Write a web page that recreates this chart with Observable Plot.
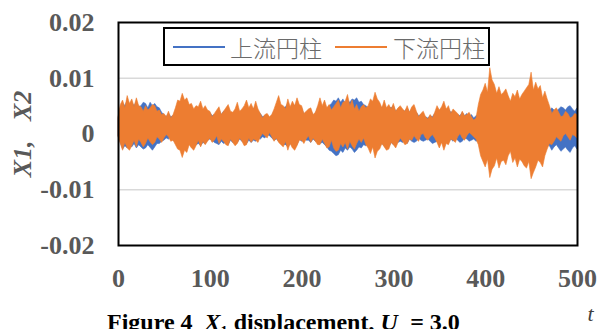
<!DOCTYPE html>
<html><head><meta charset="utf-8">
<script src="https://cdn.jsdelivr.net/npm/d3@7"></script>
<script src="https://cdn.jsdelivr.net/npm/@observablehq/plot@0.6"></script>
<style>
body{margin:0;background:#fff;}
#wrap{position:relative;width:600px;height:329px;overflow:hidden;background:#fff;}
svg g[aria-label^="x-axis"] text, svg g[aria-label^="y-axis"] text{font-size:26px;font-weight:bold;fill:#595959;font-family:"Liberation Serif",serif;}
#legend{position:absolute;left:163px;top:27px;width:323px;height:35px;border:2px solid #000;background:#fff;}
.lg-line{position:absolute;top:17px;height:1.6px;width:52px;}
.lg-text{position:absolute;top:0px;line-height:37px;font-size:23px;color:#6a6a6a;font-family:"Noto Sans CJK JP",sans-serif;font-weight:300;}
#caption{position:absolute;left:107px;top:310px;font-family:"Liberation Serif",serif;font-size:24px;font-weight:bold;line-height:1;white-space:pre;color:#000;}
</style></head><body><div id="wrap"></div>
<script>
// sample times: main samples every 5 time units, plus in-between samples
const times = d3.range(0, 501, 5);
const midTimes = d3.range(2.5, 500, 5);
const seriesNames = ["上流円柱", "下流円柱"];
const xTicks = [0, 100, 200, 300, 400, 500];
const yTicks = [-0.02, -0.01, 0, 0.01, 0.02];
const yGrid = [-0.01, 0, 0.01];

// upstream cylinder (blue): upper / lower envelope of the oscillation
const upUpper = [0.0028,0.0055,0.0060,0.0056,0.0058,0.0050,0.0054,0.0056,0.0054,0.0046,
0.0034,0.0036,0.0032,0.0044,0.0050,0.0048,0.0046,0.0044,0.0048,0.0044,
0.0038,0.0034,0.0042,0.0040,0.0046,0.0036,0.0048,0.0040,0.0052,0.0048,
0.0050,0.0036,0.0032,0.0028,0.0040,0.0052,0.0046,0.0054,0.0052,0.0056,
0.0046,0.0038,0.0042,0.0036,0.0054,0.0052,0.0050,0.0060,0.0064,0.0062,
0.0060,0.0062,0.0064,0.0058,0.0050,0.0052,0.0056,0.0050,0.0052,0.0048,
0.0050,0.0044,0.0042,0.0046,0.0044,0.0038,0.0034,0.0030,0.0032,0.0036,
0.0040,0.0046,0.0044,0.0040,0.0034,0.0038,0.0036,0.0034,0.0032,0.0040,
0.0046,0.0050,0.0048,0.0046,0.0044,0.0046,0.0048,0.0046,0.0044,0.0048,
0.0050,0.0046,0.0044,0.0040,0.0040,0.0042,0.0044,0.0046,0.0048,0.0044,0.0046];
const upUpperMid = [0.0046,0.0050,0.0052,0.0050,0.0048,0.0056,0.0046,0.0050,0.0048,0.0038,
0.0030,0.0030,0.0038,0.0040,0.0044,0.0040,0.0038,0.0040,0.0040,0.0036,
0.0032,0.0036,0.0034,0.0040,0.0032,0.0040,0.0036,0.0044,0.0042,0.0044,
0.0040,0.0030,0.0026,0.0032,0.0044,0.0042,0.0048,0.0046,0.0050,0.0040,
0.0034,0.0036,0.0032,0.0046,0.0048,0.0044,0.0054,0.0058,0.0056,0.0054,
0.0056,0.0060,0.0056,0.0052,0.0046,0.0050,0.0048,0.0046,0.0044,0.0046,
0.0040,0.0038,0.0040,0.0038,0.0040,0.0032,0.0028,0.0028,0.0030,0.0034,
0.0040,0.0040,0.0038,0.0034,0.0032,0.0032,0.0030,0.0028,0.0034,0.0040,
0.0044,0.0044,0.0040,0.0042,0.0040,0.0042,0.0040,0.0042,0.0040,0.0044,
0.0042,0.0040,0.0036,0.0036,0.0046,0.0040,0.0048,0.0042,0.0050,0.0040];
const upLower = [-0.0004,-0.0028,-0.0026,-0.0024,-0.0026,-0.0024,-0.0026,-0.0025,-0.0024,-0.0018,
-0.0012,-0.0010,-0.0012,-0.0020,-0.0026,-0.0024,-0.0022,-0.0020,-0.0022,-0.0018,
-0.0010,-0.0016,-0.0020,-0.0018,-0.0020,-0.0016,-0.0016,-0.0014,-0.0018,-0.0016,
-0.0014,-0.0010,-0.0008,-0.0004,-0.0012,-0.0014,-0.0020,-0.0024,-0.0022,-0.0020,
-0.0014,-0.0012,-0.0016,-0.0014,-0.0018,-0.0020,-0.0030,-0.0036,-0.0038,-0.0034,
-0.0030,-0.0028,-0.0030,-0.0026,-0.0022,-0.0024,-0.0026,-0.0022,-0.0022,-0.0024,
-0.0020,-0.0016,-0.0016,-0.0018,-0.0014,-0.0014,-0.0012,-0.0012,-0.0014,-0.0016,
-0.0018,-0.0020,-0.0016,-0.0014,-0.0012,-0.0014,-0.0010,-0.0012,-0.0014,-0.0016,
-0.0014,-0.0012,-0.0014,-0.0012,-0.0010,-0.0012,-0.0014,-0.0012,-0.0010,-0.0014,
-0.0012,-0.0014,-0.0016,-0.0018,-0.0022,-0.0024,-0.0026,-0.0028,-0.0030,-0.0026,-0.0028];
const upLowerMid = [-0.0016,-0.0022,-0.0020,-0.0018,-0.0020,-0.0028,-0.0020,-0.0030,-0.0018,-0.0014,
-0.0008,-0.0006,-0.0016,-0.0022,-0.0020,-0.0018,-0.0016,-0.0018,-0.0016,-0.0012,
-0.0012,-0.0018,-0.0014,-0.0016,-0.0012,-0.0014,-0.0010,-0.0014,-0.0012,-0.0012,
-0.0008,-0.0006,-0.0002,-0.0008,-0.0010,-0.0016,-0.0020,-0.0018,-0.0016,-0.0010,
-0.0008,-0.0012,-0.0010,-0.0014,-0.0016,-0.0024,-0.0032,-0.0040,-0.0030,-0.0026,
-0.0024,-0.0034,-0.0024,-0.0020,-0.0018,-0.0022,-0.0020,-0.0018,-0.0020,-0.0016,
-0.0012,-0.0014,-0.0012,-0.0010,-0.0016,-0.0008,-0.0014,-0.0010,-0.0018,-0.0014,
-0.0016,-0.0012,-0.0010,-0.0008,-0.0016,-0.0008,-0.0014,-0.0010,-0.0012,-0.0010,
-0.0008,-0.0010,-0.0008,-0.0006,-0.0008,-0.0010,-0.0008,-0.0006,-0.0010,-0.0008,
-0.0010,-0.0012,-0.0014,-0.0020,-0.0030,-0.0020,-0.0032,-0.0024,-0.0034,-0.0022];

// downstream cylinder (orange)
const downUpper = [0.0030,0.0060,0.0068,0.0062,0.0064,0.0048,0.0050,0.0046,0.0050,0.0042,
0.0036,0.0040,0.0034,0.0060,0.0072,0.0064,0.0054,0.0050,0.0058,0.0050,
0.0040,0.0036,0.0048,0.0040,0.0052,0.0038,0.0056,0.0044,0.0060,0.0054,
0.0058,0.0036,0.0034,0.0030,0.0044,0.0068,0.0050,0.0062,0.0058,0.0064,
0.0050,0.0040,0.0046,0.0038,0.0064,0.0060,0.0052,0.0048,0.0060,0.0056,
0.0070,0.0060,0.0052,0.0048,0.0046,0.0062,0.0074,0.0056,0.0060,0.0052,
0.0054,0.0046,0.0044,0.0050,0.0048,0.0040,0.0036,0.0030,0.0034,0.0038,
0.0042,0.0058,0.0050,0.0044,0.0036,0.0040,0.0034,0.0030,0.0028,0.0070,
0.0090,0.0118,0.0088,0.0084,0.0074,0.0068,0.0072,0.0078,0.0070,0.0082,
0.0110,0.0092,0.0086,0.0076,0.0050,0.0042,0.0038,0.0032,0.0036,0.0030,0.0034];
const downUpperMid = [0.0052,0.0046,0.0054,0.0048,0.0050,0.0040,0.0042,0.0052,0.0040,0.0034,
0.0030,0.0028,0.0046,0.0058,0.0060,0.0052,0.0044,0.0048,0.0044,0.0042,
0.0030,0.0042,0.0034,0.0046,0.0040,0.0044,0.0040,0.0050,0.0046,0.0044,
0.0044,0.0028,0.0036,0.0034,0.0056,0.0052,0.0044,0.0048,0.0050,0.0052,
0.0036,0.0044,0.0034,0.0050,0.0050,0.0046,0.0042,0.0054,0.0046,0.0058,
0.0050,0.0044,0.0040,0.0052,0.0050,0.0058,0.0062,0.0046,0.0046,0.0044,
0.0040,0.0050,0.0040,0.0038,0.0052,0.0030,0.0040,0.0026,0.0028,0.0050,
0.0048,0.0044,0.0036,0.0040,0.0030,0.0032,0.0038,0.0024,0.0052,0.0078,
0.0074,0.0096,0.0072,0.0070,0.0080,0.0058,0.0066,0.0062,0.0076,0.0088,
0.0078,0.0080,0.0064,0.0062,0.0036,0.0046,0.0030,0.0040,0.0028,0.0036];
const downLower = [-0.0005,-0.0030,-0.0026,-0.0022,-0.0024,-0.0016,-0.0018,-0.0015,-0.0016,-0.0010,
-0.0008,-0.0006,-0.0012,-0.0028,-0.0043,-0.0034,-0.0026,-0.0022,-0.0024,-0.0020,
-0.0008,-0.0012,-0.0018,-0.0014,-0.0022,-0.0016,-0.0018,-0.0014,-0.0020,-0.0016,
-0.0012,-0.0006,-0.0004,0.0002,-0.0014,-0.0016,-0.0024,-0.0030,-0.0026,-0.0022,
-0.0012,-0.0010,-0.0016,-0.0014,-0.0020,-0.0018,-0.0024,-0.0026,-0.0030,-0.0024,
-0.0028,-0.0022,-0.0018,-0.0016,-0.0020,-0.0036,-0.0044,-0.0028,-0.0024,-0.0028,
-0.0020,-0.0016,-0.0014,-0.0018,-0.0012,-0.0010,-0.0002,-0.0008,-0.0006,-0.0008,
-0.0026,-0.0030,-0.0020,-0.0012,-0.0006,-0.0008,-0.0004,-0.0002,-0.0010,-0.0040,
-0.0060,-0.0079,-0.0058,-0.0062,-0.0048,-0.0040,-0.0052,-0.0060,-0.0050,-0.0062,
-0.0081,-0.0060,-0.0052,-0.0040,-0.0018,-0.0014,-0.0010,-0.0004,-0.0006,-0.0002,-0.0008];
const downLowerMid = [-0.0018,-0.0016,-0.0030,-0.0012,-0.0010,-0.0024,-0.0008,-0.0020,-0.0006,-0.0016,
-0.0002,-0.0014,-0.0020,-0.0030,-0.0030,-0.0020,-0.0030,-0.0012,-0.0014,-0.0014,
-0.0016,-0.0004,-0.0010,-0.0020,-0.0010,-0.0022,-0.0008,-0.0022,-0.0008,-0.0010,
-0.0016,0.0000,-0.0008,-0.0006,-0.0008,-0.0020,-0.0014,-0.0018,-0.0030,-0.0012,
-0.0018,-0.0004,-0.0008,-0.0020,-0.0010,-0.0026,-0.0012,-0.0032,-0.0018,-0.0016,
-0.0014,-0.0028,-0.0010,-0.0008,-0.0026,-0.0024,-0.0032,-0.0018,-0.0030,-0.0016,
-0.0026,-0.0008,-0.0020,-0.0010,-0.0004,-0.0014,0.0000,-0.0012,-0.0002,-0.0016,
-0.0016,-0.0018,-0.0010,-0.0016,0.0000,-0.0012,0.0002,-0.0006,-0.0020,-0.0050,
-0.0046,-0.0064,-0.0044,-0.0050,-0.0056,-0.0032,-0.0044,-0.0046,-0.0058,-0.0050,
-0.0070,-0.0048,-0.0060,-0.0028,-0.0020,-0.0006,-0.0014,0.0000,-0.0012,-0.0004];

const colors = ["#4472C4", "#ED7D31"];
const rows = [];
times.forEach((t, i) => {
  rows.push({t, bU: upUpper[i], bL: upLower[i], oU: downUpper[i], oL: downLower[i]});
  if (i < midTimes.length) rows.push({t: midTimes[i], bU: upUpperMid[i], bL: upLowerMid[i], oU: downUpperMid[i], oL: downLowerMid[i]});
});

const chart = Plot.plot({
  width: 600, height: 329,
  marginLeft: 118, marginRight: 23, marginTop: 22, marginBottom: 84,
  style: {fontFamily: "'Liberation Serif', serif", background: "white", overflow: "visible"},
  x: {domain: [0, 500], ticks: xTicks, tickSize: 0, tickPadding: 23, label: null, tickFormat: d => String(d)},
  y: {domain: [-0.02, 0.02], ticks: yTicks, tickSize: 0, tickPadding: 24, label: null,
      tickFormat: d => d === 0 ? "0" : d.toFixed(2)},
  marks: [
    Plot.ruleY(yGrid, {stroke: "#d9d9d9", strokeWidth: 1.5}),
    Plot.areaY(rows, {x: "t", y1: "bL", y2: "bU", fill: colors[0], stroke: colors[0], strokeWidth: 0.6}),
    Plot.areaY(rows, {x: "t", y1: "oL", y2: "oU", fill: colors[1], stroke: colors[1], strokeWidth: 0.6}),
    Plot.frame({stroke: "black", strokeWidth: 2}),
    Plot.text(["X1,\u00a0\u00a0\u00a0X2"], {frameAnchor: "left", dx: -96, rotate: -90, text: d => d,
      fontSize: 26, fontWeight: "bold", fontStyle: "italic", fill: "#595959", textAnchor: "middle"}),
    Plot.text(["t"], {frameAnchor: "bottom-right", dx: 13, dy: 75, text: d => d,
      fontSize: 22, fontStyle: "italic", fill: "#404040", textAnchor: "middle"})
  ]
});

const wrap = document.getElementById("wrap");
wrap.appendChild(chart);

const legend = document.createElement("div");
legend.id = "legend";
const items = [{x: 8, tx: 65}, {x: 170, tx: 228}];
seriesNames.forEach((name, i) => {
  const ln = document.createElement("div");
  ln.className = "lg-line";
  ln.style.left = items[i].x + "px";
  ln.style.background = colors[i];
  legend.appendChild(ln);
  const tx = document.createElement("div");
  tx.className = "lg-text";
  tx.style.left = items[i].tx + "px";
  tx.textContent = name;
  legend.appendChild(tx);
});
wrap.appendChild(legend);

const cap = document.createElement("div");
cap.id = "caption";
cap.innerHTML = 'Figure 4  <i>X</i><sub style="font-size:60%">1</sub> displacement, <i>U</i><sub style="font-size:60%">r</sub> = 3.0';
wrap.appendChild(cap);
</script></body></html>
